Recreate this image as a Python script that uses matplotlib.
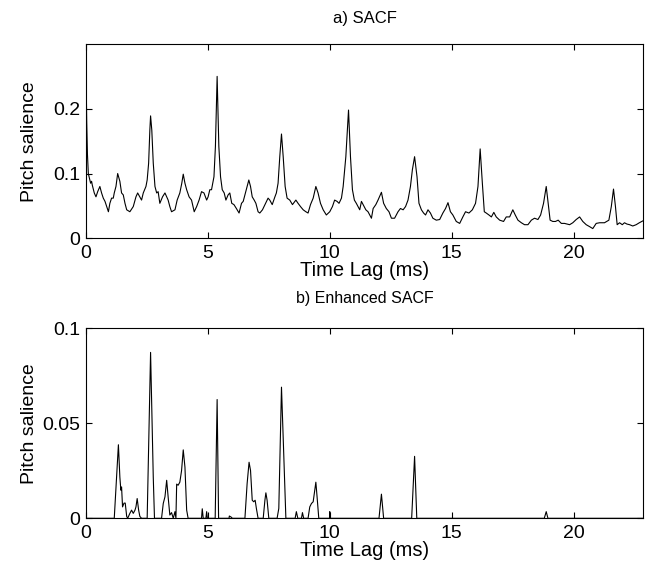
import numpy as np
import matplotlib
matplotlib.use('Agg')
import matplotlib.pyplot as plt

plt.rcParams['font.family'] = ['Liberation Sans', 'DejaVu Sans']

# a) SACF (time lag in ms, pitch salience)
sacf_t = [0.00, 0.03, 0.06, 0.096, 0.19, 0.23, 0.26, 0.34, 0.41, 0.48, 0.57, 0.64, 0.71, 0.78,
          0.85, 0.92, 0.98, 1.05, 1.12, 1.16, 1.23, 1.30, 1.39, 1.46, 1.53, 1.60, 1.67, 1.80,
          1.94, 2.05, 2.12, 2.21, 2.28, 2.35, 2.46, 2.51, 2.57, 2.62, 2.65, 2.70, 2.76, 2.83,
          2.90, 2.96, 3.03, 3.14, 3.24, 3.31, 3.37, 3.44, 3.51, 3.65, 3.74, 3.85, 3.93, 3.99,
          4.06, 4.13, 4.23, 4.33, 4.44, 4.54, 4.64, 4.74, 4.84, 4.95, 5.01, 5.08, 5.15, 5.25,
          5.31, 5.38, 5.45, 5.52, 5.59, 5.67, 5.74, 5.83, 5.90, 5.98, 6.07, 6.17, 6.28, 6.38,
          6.45, 6.52, 6.58, 6.68, 6.75, 6.82, 6.90, 6.97, 7.06, 7.13, 7.24, 7.34, 7.47, 7.54,
          7.64, 7.75, 7.81, 7.88, 7.95, 8.02, 8.09, 8.17, 8.25, 8.36, 8.47, 8.61, 8.70, 8.80,
          8.91, 9.02, 9.11, 9.21, 9.32, 9.43, 9.52, 9.62, 9.73, 9.86, 10.00, 10.11, 10.20,
          10.30, 10.38, 10.48, 10.55, 10.66, 10.77, 10.85, 10.93, 11.01, 11.09, 11.23, 11.30,
          11.37, 11.48, 11.57, 11.71, 11.78, 11.89, 11.98, 12.12, 12.21, 12.32, 12.43, 12.53,
          12.66, 12.80, 12.90, 13.01, 13.11, 13.21, 13.31, 13.39, 13.48, 13.58, 13.66, 13.76,
          13.85, 13.93, 14.03, 14.13, 14.23, 14.37, 14.51, 14.64, 14.75, 14.85, 14.95, 15.05,
          15.19, 15.33, 15.46, 15.57, 15.71, 15.85, 15.98, 16.08, 16.17, 16.26, 16.34, 16.42,
          16.53, 16.63, 16.73, 16.83, 16.97, 17.13, 17.24, 17.38, 17.51, 17.61, 17.72, 17.86,
          17.99, 18.13, 18.27, 18.40, 18.54, 18.65, 18.77, 18.88, 18.96, 19.04, 19.15, 19.26,
          19.37, 19.50, 19.63, 19.84, 19.97, 20.11, 20.25, 20.38, 20.52, 20.66, 20.79, 20.93,
          21.07, 21.27, 21.45, 21.55, 21.64, 21.72, 21.79, 21.89, 22.00, 22.09, 22.19, 22.30,
          22.43, 22.57, 22.70, 22.85]
sacf_v = [0.260, 0.180, 0.130, 0.100, 0.085, 0.088, 0.082, 0.070, 0.064, 0.072, 0.080, 0.070,
          0.062, 0.057, 0.049, 0.041, 0.054, 0.062, 0.062, 0.070, 0.080, 0.100, 0.088, 0.070,
          0.067, 0.054, 0.044, 0.041, 0.049, 0.064, 0.070, 0.064, 0.059, 0.070, 0.080, 0.090,
          0.116, 0.167, 0.189, 0.167, 0.116, 0.080, 0.070, 0.072, 0.054, 0.064, 0.070, 0.064,
          0.059, 0.049, 0.041, 0.044, 0.059, 0.070, 0.085, 0.099, 0.085, 0.075, 0.064, 0.059,
          0.041, 0.049, 0.059, 0.072, 0.070, 0.059, 0.064, 0.075, 0.075, 0.095, 0.142, 0.250,
          0.142, 0.095, 0.075, 0.070, 0.059, 0.067, 0.070, 0.054, 0.052, 0.046, 0.039, 0.054,
          0.057, 0.067, 0.075, 0.090, 0.080, 0.064, 0.059, 0.054, 0.041, 0.039, 0.044, 0.052,
          0.062, 0.059, 0.052, 0.064, 0.070, 0.085, 0.126, 0.161, 0.126, 0.080, 0.062, 0.059,
          0.052, 0.059, 0.054, 0.049, 0.044, 0.041, 0.039, 0.052, 0.062, 0.080, 0.070, 0.054,
          0.044, 0.036, 0.041, 0.049, 0.059, 0.057, 0.054, 0.062, 0.080, 0.126, 0.198, 0.126,
          0.075, 0.059, 0.054, 0.044, 0.057, 0.052, 0.044, 0.041, 0.031, 0.046, 0.052, 0.059,
          0.071, 0.054, 0.046, 0.041, 0.031, 0.031, 0.041, 0.046, 0.044, 0.049, 0.059, 0.080,
          0.106, 0.126, 0.095, 0.054, 0.044, 0.039, 0.036, 0.044, 0.039, 0.031, 0.028, 0.029,
          0.039, 0.046, 0.055, 0.041, 0.036, 0.026, 0.023, 0.033, 0.041, 0.039, 0.044, 0.054,
          0.080, 0.138, 0.085, 0.041, 0.039, 0.036, 0.033, 0.040, 0.033, 0.028, 0.026, 0.033,
          0.033, 0.044, 0.036, 0.028, 0.024, 0.021, 0.021, 0.028, 0.031, 0.029, 0.036, 0.054,
          0.080, 0.054, 0.028, 0.026, 0.026, 0.028, 0.023, 0.023, 0.021, 0.024, 0.029, 0.033,
          0.026, 0.021, 0.018, 0.015, 0.023, 0.024, 0.024, 0.028, 0.049, 0.076, 0.049, 0.021,
          0.024, 0.021, 0.024, 0.022, 0.021, 0.019, 0.021, 0.024, 0.027]

# b) Enhanced SACF
esacf_t = [0.00, 1.16, 1.33, 1.39, 1.43, 1.46, 1.50, 1.56, 1.61, 1.67, 1.71, 1.80, 1.87, 1.94,
           2.01, 2.05, 2.10, 2.16, 2.21, 2.28, 2.51, 2.65, 2.76, 2.81, 3.10, 3.17, 3.24, 3.31,
           3.37, 3.44, 3.51, 3.58, 3.65, 3.69, 3.72, 3.78, 3.85, 3.92, 3.99, 4.06, 4.13, 4.19,
           4.74, 4.77, 4.81, 4.92, 4.95, 4.98, 5.30, 5.38, 5.44, 5.87, 5.88, 5.97, 6.00, 6.52,
           6.61, 6.69, 6.75, 6.82, 6.88, 6.94, 6.99, 7.06, 7.27, 7.34, 7.38, 7.43, 7.50, 7.84,
           7.91, 8.02, 8.09, 8.20, 8.58, 8.63, 8.69, 8.84, 8.88, 8.93, 9.11, 9.18, 9.25, 9.32,
           9.43, 9.48, 9.55, 9.99, 10.00, 10.03, 12.02, 12.12, 12.21, 13.36, 13.48, 13.57,
           18.80, 18.88, 18.95, 22.85]
esacf_v = [0.0, 0.0, 0.0387, 0.0217, 0.0148, 0.0165, 0.0060, 0.0080, 0.0080, 0.0010, 0.0,
           0.0026, 0.0043, 0.0026, 0.0043, 0.0060, 0.0104, 0.0043, 0.0010, 0.0, 0.0, 0.0873,
           0.0217, 0.0, 0.0, 0.0078, 0.0113, 0.0200, 0.0113, 0.0017, 0.0030, 0.0, 0.0035, 0.0,
           0.0180, 0.0174, 0.0190, 0.0250, 0.0360, 0.0269, 0.0043, 0.0, 0.0, 0.0050, 0.0, 0.0,
           0.0035, 0.0, 0.0, 0.0625, 0.0, 0.0, 0.0012, 0.0005, 0.0, 0.0, 0.0182, 0.0295, 0.0252,
           0.0095, 0.0087, 0.0095, 0.0052, 0.0, 0.0, 0.0095, 0.0134, 0.0095, 0.0, 0.0, 0.0052,
           0.0690, 0.0424, 0.0, 0.0, 0.0035, 0.0, 0.0, 0.0030, 0.0, 0.0, 0.0060, 0.0078, 0.0087,
           0.0190, 0.0113, 0.0, 0.0, 0.0035, 0.0, 0.0, 0.0127, 0.0, 0.0, 0.0326, 0.0, 0.0,
           0.0035, 0.0, 0.0]

xticks = [0, 5, 10, 15, 20]

fig = plt.figure(figsize=(6.45, 5.69), dpi=100)
ax0 = fig.add_axes([0.1333, 0.5812, 0.8636, 0.3415])
ax1 = fig.add_axes([0.1333, 0.0891, 0.8636, 0.3340])

ax0.plot(sacf_t, sacf_v, 'k', linewidth=0.8)
ax0.set_xlim(0, 22.85)
ax0.set_ylim(0, 0.3)
ax0.set_yticks([0, 0.1, 0.2])
ax0.set_yticklabels(['0', '0.1', '0.2'])

ax1.plot(esacf_t, esacf_v, 'k', linewidth=0.8)
ax1.set_xlim(0, 22.85)
ax1.set_ylim(0, 0.1)
ax1.set_yticks([0, 0.05, 0.1])
ax1.set_yticklabels(['0', '0.05', '0.1'])

# titles sit a fixed distance above each box
fig.text(0.566, 1 - 18 / 569, 'a) SACF', fontsize=12, ha='center', va='center')
fig.text(0.566, 1 - 298 / 569, 'b) Enhanced SACF', fontsize=11.5, ha='center', va='center')

# MATLAB-ish box with inward ticks on all sides
for ax in (ax0, ax1):
    ax.set_xticks(xticks)
    ax.set_xticklabels([str(v) for v in xticks])
    ax.set_xlabel('Time Lag (ms)', fontsize=14.5, va='center')
    ax.set_ylabel('Pitch salience', fontsize=14, va='center')
    h = ax.get_position().height * 569
    ax.xaxis.set_label_coords(0.5, -32 / h)
    ax.yaxis.set_label_coords(-56 / 557, 0.5)
    ax.tick_params(direction='in', top=True, right=True, length=4.5, width=0.8,
                   labelsize=14)
    ax.tick_params(axis='x', pad=5)
    ax.tick_params(axis='y', pad=4)
    for s in ax.spines.values():
        s.set_linewidth(0.8)

plt.savefig('out.png', dpi=100)
